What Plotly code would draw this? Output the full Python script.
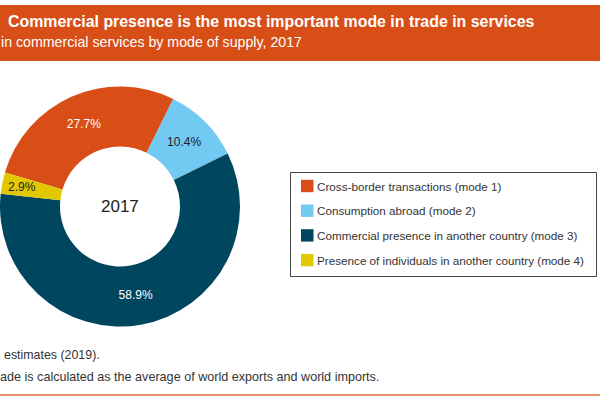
import math
import plotly.graph_objects as go

# ---- data ----
modes = [
    "Cross-border transactions (mode 1)",
    "Consumption abroad (mode 2)",
    "Commercial presence in another country (mode 3)",
    "Presence of individuals in another country (mode 4)",
]
shares = [27.7, 10.4, 58.9, 2.9]
year_label = "2017"

title_text = "Commercial presence is the most important mode in trade in services"
subtitle_text = "in commercial services by mode of supply, 2017"
source_text = "estimates (2019)."
note_text = "ade is calculated as the average of world exports and world imports."

# ---- style ----
colors = ["#D94E16", "#72C9F2", "#00465F", "#E2C800"]
label_colors = ["white", "#222222", "white", "#222222"]
# the thin mode-4 slice gets its label as an annotation (placed from its share below)
label_templates = ["%{value:.1f}%", "%{value:.1f}%", "%{value:.1f}%", ""]
orange = "#D84E17"
FONT = "Liberation Sans, Arial, sans-serif"
W, H = 600, 400
ROT = -73.5                     # start angle of first slice (deg, clockwise from 12 o'clock)
CX, CY, R = 120, 206.5, 120     # donut centre / radius in pixels

def px(x):
    return x / W

def py(y):
    return 1 - y / H

fig = go.Figure()
fig.add_trace(go.Pie(
    labels=modes,
    values=shares,
    hole=0.5,
    sort=False,
    direction="clockwise",
    rotation=ROT,
    marker=dict(colors=colors, line=dict(width=0)),
    texttemplate=label_templates,
    textposition="inside",
    insidetextorientation="horizontal",
    textfont=dict(family=FONT, size=12, color=label_colors),
    domain=dict(x=[px(CX - R), px(CX + R)], y=[py(CY + R), py(CY - R)]),
    showlegend=False,
    hoverinfo="label+value",
))

shapes = [
    # header band
    dict(type="rect", xref="paper", yref="paper", x0=0, x1=1, y0=py(61), y1=py(5),
         fillcolor=orange, line=dict(width=0), layer="below"),
    # bottom rule
    dict(type="line", xref="paper", yref="paper", x0=0, x1=1, y0=py(395), y1=py(395),
         line=dict(color="#E8906A", width=2)),
    # legend box
    dict(type="rect", xref="paper", yref="paper", x0=px(290.5), x1=px(596.5), y0=py(276.5), y1=py(172.5),
         fillcolor="white", line=dict(color="#444444", width=1)),
]

annotations = [
    dict(text="<b>" + title_text + "</b>", xref="paper", yref="paper", x=px(5.5), y=py(21.5),
         xanchor="left", yanchor="middle", showarrow=False,
         font=dict(family=FONT, size=15.9, color="white")),
    dict(text=subtitle_text, xref="paper", yref="paper", x=px(-1), y=py(41.5),
         xanchor="left", yanchor="middle", showarrow=False,
         font=dict(family=FONT, size=14.2, color="white")),
    dict(text=source_text, xref="paper", yref="paper", x=px(2), y=py(355),
         xanchor="left", yanchor="middle", showarrow=False,
         font=dict(family=FONT, size=12.4, color="#333333")),
    dict(text=note_text, xref="paper", yref="paper", x=px(-2), y=py(377),
         xanchor="left", yanchor="middle", showarrow=False,
         font=dict(family=FONT, size=12.6, color="#333333")),
    dict(text=year_label, xref="paper", yref="paper", x=px(CX), y=py(207),
         xanchor="center", yanchor="middle", showarrow=False,
         font=dict(family=FONT, size=17, color="#222222")),
]

# label of the thin last slice, placed at its mid-angle from the data
total = sum(shares)
cum_before = sum(shares[:-1])
mid = math.radians(ROT + 360 * (cum_before + shares[-1] / 2) / total)
r_lab = 0.833 * R
annotations.append(dict(
    text=f"{shares[-1]:.1f}%", xref="paper", yref="paper",
    x=px(CX + r_lab * math.sin(mid)), y=py(CY - r_lab * math.cos(mid)),
    xanchor="center", yanchor="middle", showarrow=False,
    font=dict(family=FONT, size=12, color=label_colors[-1])))

# custom legend built from the mode names and colours
for i, (name, col) in enumerate(zip(modes, colors)):
    cy = 186 + i * 24.7
    shapes.append(dict(type="rect", xref="paper", yref="paper",
                       x0=px(301), x1=px(313.5), y0=py(cy + 6.2), y1=py(cy - 6.2),
                       fillcolor=col, line=dict(width=0)))
    annotations.append(dict(text=name, xref="paper", yref="paper", x=px(315), y=py(cy),
                            xanchor="left", yanchor="middle", showarrow=False,
                            font=dict(family=FONT, size=11.7, color="#333333")))

fig.update_layout(
    width=W, height=H,
    margin=dict(l=0, r=0, t=0, b=0),
    paper_bgcolor="white",
    plot_bgcolor="white",
    shapes=shapes,
    annotations=annotations,
    uniformtext=dict(minsize=12, mode="show"),
    showlegend=False,
)

fig.write_html("out.html", config={"displayModeBar": False},
               post_script="document.body.style.margin='0';")
